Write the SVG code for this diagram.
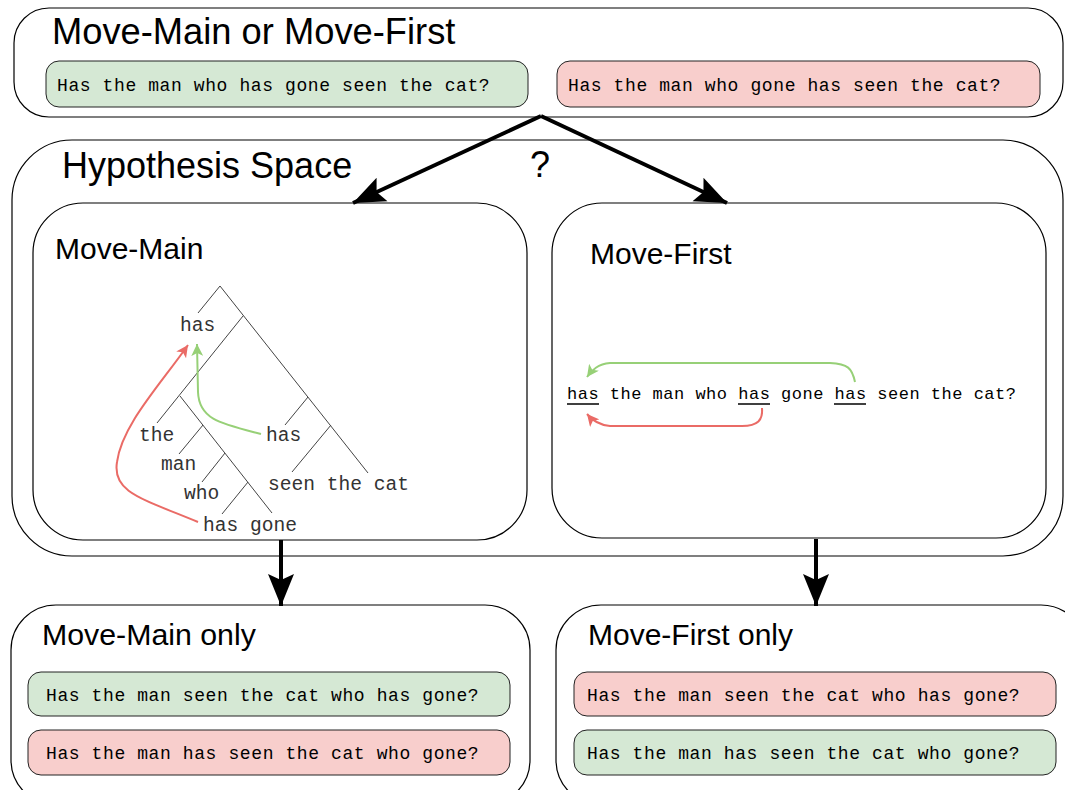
<svg xmlns="http://www.w3.org/2000/svg" width="1065" height="790" viewBox="0 0 1065 790">
<defs>
<style>
.box{fill:#fff;stroke:#000;stroke-width:1.2}
.g{fill:#d5e8d4;stroke:#222;stroke-width:1}
.r{fill:#f8cecc;stroke:#222;stroke-width:1}
.title{font-family:"Liberation Sans",Arial,sans-serif;fill:#000}
.mono{font-family:"Liberation Mono","DejaVu Sans Mono",monospace;font-size:18px;letter-spacing:0.6px;fill:#000}
.tree{font-family:"Liberation Mono","Courier New",monospace;font-size:19.6px;fill:#333}
.tl{stroke:#444;stroke-width:1;fill:none}
.conn{stroke:#000;stroke-width:4;fill:none}
</style>
<marker id="ah" markerUnits="userSpaceOnUse" markerWidth="36" markerHeight="30" refX="32" refY="15" orient="auto" viewBox="0 0 36 30">
<path d="M0,2 L32,15 L0,28 L6,15 Z" fill="#000"/>
</marker>
<marker id="ahr" markerUnits="userSpaceOnUse" markerWidth="14" markerHeight="12" refX="12" refY="6" orient="auto" viewBox="0 0 14 12">
<path d="M0,0 L12,6 L0,12 L3,6 Z" fill="#ea6b66"/>
</marker>
<marker id="ahg" markerUnits="userSpaceOnUse" markerWidth="14" markerHeight="12" refX="12" refY="6" orient="auto" viewBox="0 0 14 12">
<path d="M0,0 L12,6 L0,12 L3,6 Z" fill="#97d077"/>
</marker>
</defs>

<g id="node-top">
<rect class="box" x="14" y="8" width="1049" height="109" rx="35"/>
<text class="title" x="52" y="44" font-size="36.3">Move-Main or Move-First</text>
<rect class="g" x="46" y="61" width="482" height="46" rx="13"/>
<text class="mono" x="57" y="91">Has the man who has gone seen the cat?</text>
<rect class="r" x="557" y="61" width="483" height="46" rx="13"/>
<text class="mono" x="568" y="91">Has the man who gone has seen the cat?</text>
</g>

<g id="node-hypothesis">
<rect class="box" x="12" y="140" width="1051" height="416" rx="60"/>
<text class="title" x="62" y="178" font-size="36">Hypothesis Space</text>
<text class="title" x="530" y="177" font-size="36">?</text>
</g>

<g id="node-movemain">
<rect class="box" x="33" y="203" width="494" height="337" rx="50"/>
<text class="title" x="55" y="259" font-size="30">Move-Main</text>
<g id="tree">
<line class="tl" x1="220" y1="286" x2="198" y2="313"/>
<line class="tl" x1="220" y1="286" x2="368" y2="473"/>
<line class="tl" x1="243" y1="316" x2="157" y2="423"/>
<line class="tl" x1="180" y1="396" x2="272" y2="513"/>
<line class="tl" x1="203" y1="425" x2="179" y2="454"/>
<line class="tl" x1="225" y1="453" x2="202" y2="482"/>
<line class="tl" x1="248" y1="482" x2="222" y2="514"/>
<line class="tl" x1="308" y1="397" x2="285" y2="425"/>
<line class="tl" x1="331" y1="425" x2="292" y2="472"/>
<text class="tree" x="180" y="331">has</text>
<text class="tree" x="139" y="441">the</text>
<text class="tree" x="161" y="470">man</text>
<text class="tree" x="184" y="499">who</text>
<text class="tree" x="203" y="531">has gone</text>
<text class="tree" x="266" y="441">has</text>
<text class="tree" x="268" y="490">seen the cat</text>
<path d="M198,522 C140,498 112,492 117,462 C122,425 160,385 188,345" stroke="#ea6b66" stroke-width="2" fill="none" marker-end="url(#ahr)"/>
<path d="M261,434 C222,424 199,420 198,392 L197,344" stroke="#97d077" stroke-width="2" fill="none" marker-end="url(#ahg)"/>
</g>
</g>

<g id="node-movefirst">
<rect class="box" x="552" y="203" width="494" height="335" rx="50"/>
<text class="title" x="590" y="264" font-size="30">Move-First</text>
<text font-family="Liberation Mono,DejaVu Sans Mono,monospace" font-size="17" letter-spacing="0.5" x="567" y="399" fill="#000">has the man who has gone has seen the cat?</text>
<line x1="567" y1="404" x2="599" y2="404" stroke="#000" stroke-width="1.5"/>
<line x1="738" y1="404" x2="770" y2="404" stroke="#000" stroke-width="1.5"/>
<line x1="834" y1="404" x2="866" y2="404" stroke="#000" stroke-width="1.5"/>
<path d="M855,382 C852,368 848,364 830,363 L610,363 C598,364 592,370 587,377" stroke="#97d077" stroke-width="2" fill="none" marker-end="url(#ahg)"/>
<path d="M762,408 C763,420 758,426 742,426 L610,426 C598,425 592,420 587,414" stroke="#ea6b66" stroke-width="2" fill="none" marker-end="url(#ahr)"/>
</g>

<g id="node-mainonly">
<rect class="box" x="11" y="605" width="519" height="200" rx="45"/>
<text class="title" x="42" y="645" font-size="30.3">Move-Main only</text>
<rect class="g" x="28" y="672" width="482" height="44" rx="13"/>
<text class="mono" x="46" y="701">Has the man seen the cat who has gone?</text>
<rect class="r" x="28" y="730" width="482" height="45" rx="13"/>
<text class="mono" x="46" y="759">Has the man has seen the cat who gone?</text>
</g>

<g id="node-firstonly">
<rect class="box" x="556" y="605" width="530" height="200" rx="45"/>
<text class="title" x="588" y="645" font-size="30">Move-First only</text>
<rect class="r" x="574" y="672" width="482" height="44" rx="13"/>
<text class="mono" x="587" y="701">Has the man seen the cat who has gone?</text>
<rect class="g" x="574" y="730" width="482" height="45" rx="13"/>
<text class="mono" x="587" y="759">Has the man has seen the cat who gone?</text>
</g>

<g id="connectors">
<line class="conn" x1="541" y1="116" x2="353" y2="203" marker-end="url(#ah)"/>
<line class="conn" x1="541" y1="116" x2="727" y2="203" marker-end="url(#ah)"/>
<line class="conn" x1="281" y1="540" x2="281" y2="606" marker-end="url(#ah)"/>
<line class="conn" x1="816" y1="539" x2="816" y2="606" marker-end="url(#ah)"/>
</g>
</svg>
